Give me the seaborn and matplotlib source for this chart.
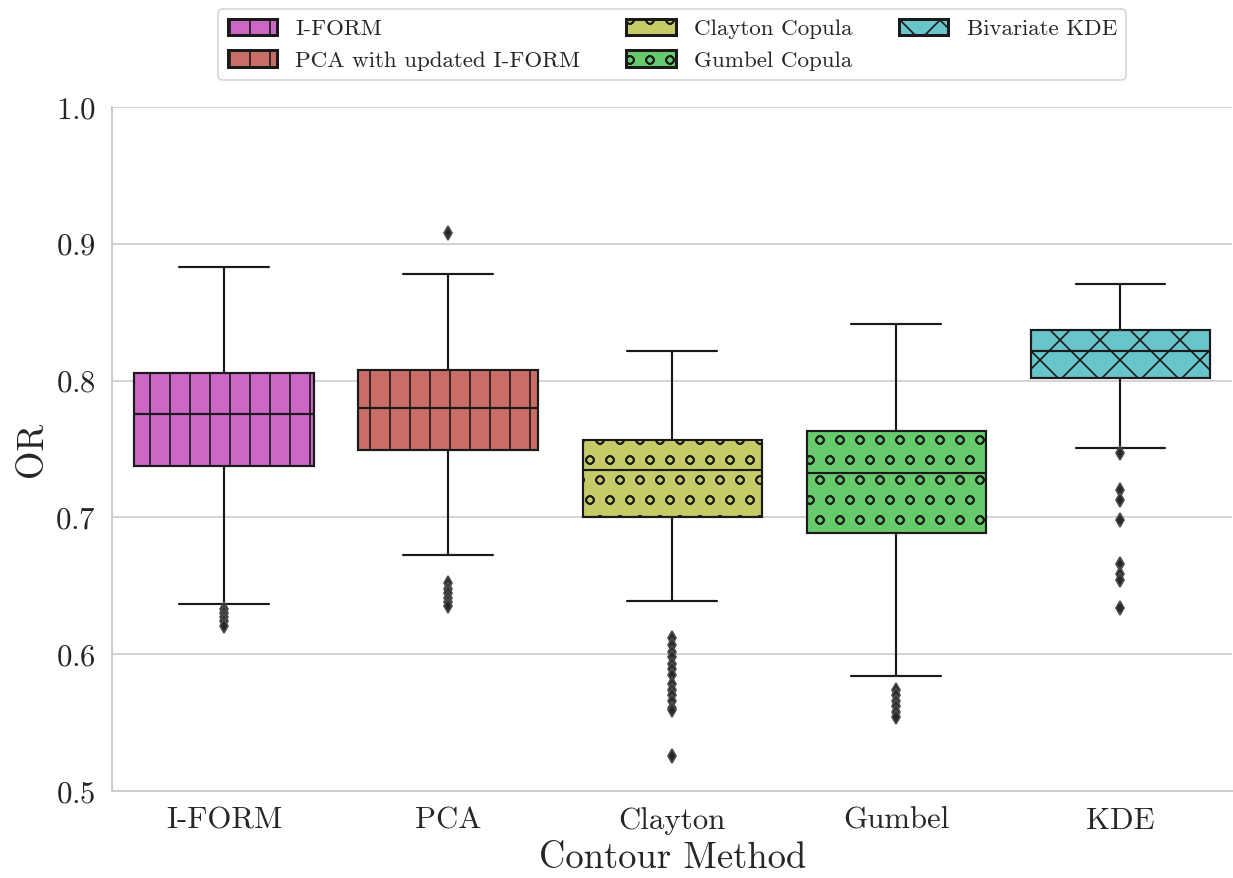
import numpy as np
import pandas as pd
import matplotlib
matplotlib.use("Agg")
import matplotlib.pyplot as plt
import matplotlib.patches as mpatches
import seaborn as sns

# ---- data ----
methods = ["I-FORM", "PCA", "Clayton", "Gumbel", "KDE"]
legend_labels = ["I-FORM", "PCA with updated I-FORM", "Clayton Copula",
                 "Gumbel Copula", "Bivariate KDE"]
q1 = [0.7373, 0.7493, 0.7001, 0.6886, 0.8017]
medians = [0.7756, 0.7797, 0.7349, 0.7327, 0.8214]
q3 = [0.8058, 0.8077, 0.7564, 0.7634, 0.8368]
whisker_low = [0.6365, 0.6728, 0.6387, 0.5843, 0.7505]
whisker_high = [0.8833, 0.8782, 0.8214, 0.8416, 0.8706]
outliers_iform = [0.633, 0.630, 0.627, 0.624, 0.621]
outliers_pca = [0.908, 0.652, 0.648, 0.645, 0.641, 0.638, 0.635]
outliers_clayton = [0.612, 0.607, 0.602, 0.598, 0.593, 0.589, 0.585, 0.578,
                    0.574, 0.570, 0.566, 0.561, 0.559, 0.526]
outliers_gumbel = [0.574, 0.570, 0.566, 0.562, 0.558, 0.554]
outliers_kde = [0.747, 0.720, 0.713, 0.698, 0.666, 0.659, 0.654, 0.634]
outliers = [outliers_iform, outliers_pca, outliers_clayton, outliers_gumbel, outliers_kde]
hatches = ["|", "|", "o", "o", "x"]

# build sample sets whose box statistics equal the values read above
block = 60
rows = []
for i, m in enumerate(methods):
    vals = (list(outliers[i]) + [whisker_low[i]] + [q1[i]] * block +
            [medians[i]] * block + [q3[i]] * block + [whisker_high[i]])
    rows += [(m, v) for v in vals]
df = pd.DataFrame(rows, columns=["method", "OR"])

# ---- styling ----
sns.set_theme(style="whitegrid")
plt.rcParams["font.family"] = ["cmr10", "DejaVu Serif"]
plt.rcParams["axes.formatter.use_mathtext"] = True
plt.rcParams["mathtext.fontset"] = "cm"

base = sns.color_palette("hls", 6)
colors = [base[5], base[0], base[1], base[2], base[3]]

fig = plt.figure(figsize=(1233 / 120, 878 / 120), dpi=120)
ax = fig.add_subplot(111)
fig.subplots_adjust(left=0.0908, right=0.9995, top=0.878, bottom=0.099)

sns.boxplot(data=df, x="method", y="OR", hue="method", order=methods,
            hue_order=methods, palette=colors, legend=False, ax=ax,
            linecolor="k", linewidth=1.3, width=0.8,
            flierprops=dict(marker="d", markerfacecolor="0.15",
                            markeredgecolor="0.3", markersize=6))

for p, h in zip(ax.patches, hatches):
    p.set_hatch(h)
    p.set_edgecolor("k")

sat_colors = [sns.desaturate(c, 0.75) for c in colors]
handles = [mpatches.Patch(facecolor=c, edgecolor="k", hatch=h, linewidth=1.8, label=l)
           for c, h, l in zip(sat_colors, hatches, legend_labels)]
ax.legend(handles=handles, loc="lower center", bbox_to_anchor=(0.5, 1.0395),
          borderaxespad=0.0, ncol=3, fontsize=13.8, handlelength=2.15,
          handleheight=0.75, columnspacing=2.0, frameon=True)

ax.set_ylim(0.5, 1.0)
ax.set_yticks([0.5, 0.6, 0.7, 0.8, 0.9, 1.0])
ax.tick_params(axis="both", labelsize=18.5)
ax.set_xlabel("Contour Method", fontsize=22)
ax.set_ylabel("OR", fontsize=22)
sns.despine(ax=ax)

fig.savefig("out.png", dpi=120)
